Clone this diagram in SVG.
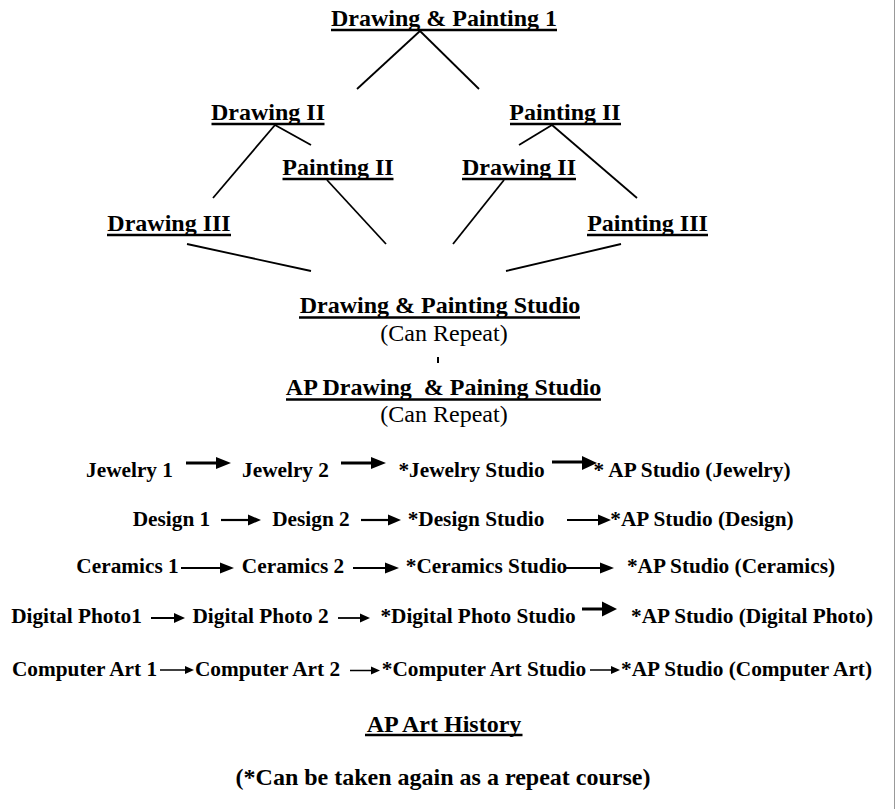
<svg xmlns="http://www.w3.org/2000/svg" width="895" height="809" viewBox="0 0 895 809">
<style>
text{font-family:"Liberation Serif","Times New Roman",serif;fill:#000;}
.h{font-size:24px;font-weight:bold;text-anchor:middle;}
.n{font-size:24px;text-anchor:middle;}
.r{font-size:21.3px;font-weight:bold;text-anchor:middle;}
.f{font-size:24px;font-weight:bold;text-anchor:middle;}
.u{stroke:#000;stroke-width:2.4;}
.ln{stroke:#000;stroke-width:1.8;fill:none;}
.a{stroke:#000;fill:none;}
.hd{fill:#000;stroke:none;}
</style>
<rect width="895" height="809" fill="#fff"/>
<line x1="894.5" y1="0" x2="894.5" y2="809" stroke="#999" stroke-width="1"/>

<g id="connectors">
<line class="ln" x1="420" y1="31" x2="357" y2="89"/>
<line class="ln" x1="420" y1="31" x2="479" y2="89"/>
<line class="ln" x1="275" y1="125" x2="213" y2="198"/>
<line class="ln" x1="275" y1="125" x2="311" y2="145"/>
<line class="ln" x1="552" y1="125" x2="519" y2="145"/>
<line class="ln" x1="552" y1="125" x2="637" y2="198"/>
<line class="ln" x1="327" y1="180" x2="386" y2="244"/>
<line class="ln" x1="504" y1="180" x2="453" y2="244"/>
<line class="ln" x1="187" y1="244" x2="311" y2="271"/>
<line class="ln" x1="621" y1="244" x2="506" y2="271"/>
<line x1="438" y1="357" x2="438" y2="363" stroke="#000" stroke-width="2"/>
<!-- row 1 -->
<line class="a" stroke-width="3" x1="186" y1="463" x2="218" y2="463"/><polygon class="hd" points="216,457 231,463 216,469"/>
<line class="a" stroke-width="3" x1="341" y1="463" x2="373" y2="463"/><polygon class="hd" points="371,457 386,463 371,469"/>
<line class="a" stroke-width="3" x1="552" y1="462" x2="584" y2="462"/><polygon class="hd" points="582,456 597,463 582,470"/>
<!-- row 2 -->
<line class="a" stroke-width="2.2" x1="221" y1="520" x2="250" y2="520"/><polygon class="hd" points="248,514.5 261,520 248,525.5"/>
<line class="a" stroke-width="2.2" x1="361" y1="520" x2="390" y2="520"/><polygon class="hd" points="388,514.5 401,520 388,525.5"/>
<line class="a" stroke-width="2.2" x1="567" y1="520" x2="600" y2="520"/><polygon class="hd" points="598,514.5 611,520 598,525.5"/>
<!-- row 3 -->
<line class="a" stroke-width="2.2" x1="181" y1="568" x2="222" y2="568"/><polygon class="hd" points="220,562.5 234,568 220,573.5"/>
<line class="a" stroke-width="2.2" x1="353" y1="568" x2="387" y2="568"/><polygon class="hd" points="385,562.5 399,568 385,573.5"/>
<line class="a" stroke-width="2.2" x1="566" y1="568" x2="602" y2="568"/><polygon class="hd" points="600,562.5 614,568 600,573.5"/>
<!-- row 4 -->
<line class="a" stroke-width="2" x1="151" y1="618" x2="176" y2="618"/><polygon class="hd" points="174,613 185,618 174,623"/>
<line class="a" stroke-width="1.8" x1="338" y1="618" x2="362" y2="618"/><polygon class="hd" points="360,613.5 370,618 360,622.5"/>
<line class="a" stroke-width="3" x1="582" y1="609" x2="604" y2="609"/><polygon class="hd" points="602,601.5 617,609 602,616.5"/>
<!-- row 5 -->
<line class="a" stroke-width="1.5" x1="160" y1="670" x2="187" y2="670"/><polygon class="hd" points="185,666 194,670 185,674"/>
<line class="a" stroke-width="1.5" x1="350" y1="670.5" x2="373" y2="670.5"/><polygon class="hd" points="371,666.5 380,670.5 371,674.5"/>
<line class="a" stroke-width="1.5" x1="590" y1="670" x2="613" y2="670"/><polygon class="hd" points="611,666 620,670 611,674"/>
</g>

<g id="dp1"><text class="h" x="444" y="26">Drawing &amp; Painting 1</text><line class="u" x1="331" y1="30" x2="557" y2="30"/></g>
<g id="drawing2-left"><text class="h" x="268" y="120">Drawing II</text><line class="u" x1="211.5" y1="124" x2="324.5" y2="124"/></g>
<g id="painting2-right"><text class="h" x="565" y="120">Painting II</text><line class="u" x1="510" y1="124" x2="621" y2="124"/></g>
<g id="painting2-mid"><text class="h" x="338" y="175">Painting II</text><line class="u" x1="282.5" y1="179" x2="393.5" y2="179"/></g>
<g id="drawing2-mid"><text class="h" x="519" y="175">Drawing II</text><line class="u" x1="462" y1="179" x2="576" y2="179"/></g>
<g id="drawing3"><text class="h" x="169" y="230.5">Drawing III</text><line class="u" x1="107" y1="235" x2="231" y2="235"/></g>
<g id="painting3"><text class="h" x="647.5" y="230.5">Painting III</text><line class="u" x1="587" y1="235" x2="708" y2="235"/></g>
<g id="dp-studio">
<text class="h" x="440" y="313">Drawing &amp; Painting Studio</text><line class="u" x1="299" y1="317.5" x2="580" y2="317.5"/>
<text class="n" x="444" y="340.5">(Can Repeat)</text>
</g>
<g id="ap-dp-studio">
<text class="h" x="443.5" y="395" xml:space="preserve">AP Drawing  &amp; Paining Studio</text><line class="u" x1="286" y1="399.5" x2="601" y2="399.5"/>
<text class="n" x="444" y="422">(Can Repeat)</text>
</g>

<g id="row-jewelry">
<text class="r" x="129.5" y="477">Jewelry 1</text>
<text class="r" x="285.5" y="477">Jewelry 2</text>
<text class="r" x="471.5" y="477">*Jewelry Studio</text>
<text class="r" x="692" y="477">* AP Studio (Jewelry)</text>
</g>
<g id="row-design">
<text class="r" x="171.5" y="526">Design 1</text>
<text class="r" x="311" y="526">Design 2</text>
<text class="r" x="476" y="526">*Design Studio</text>
<text class="r" x="702" y="526">*AP Studio (Design)</text>
</g>
<g id="row-ceramics">
<text class="r" x="127.5" y="573">Ceramics 1</text>
<text class="r" x="293" y="573">Ceramics 2</text>
<text class="r" x="486.5" y="573">*Ceramics Studio</text>
<text class="r" x="731" y="573">*AP Studio (Ceramics)</text>
</g>
<g id="row-photo">
<text class="r" x="76.5" y="623">Digital Photo1</text>
<text class="r" x="260.5" y="623">Digital Photo 2</text>
<text class="r" x="478" y="623">*Digital Photo Studio</text>
<text class="r" x="752" y="623">*AP Studio (Digital Photo)</text>
</g>
<g id="row-computer">
<text class="r" x="84.5" y="676">Computer Art 1</text>
<text class="r" x="267.5" y="676">Computer Art 2</text>
<text class="r" x="484" y="676">*Computer Art Studio</text>
<text class="r" x="746.5" y="676">*AP Studio (Computer Art)</text>
</g>
<g id="ap-art-history"><text class="h" x="444" y="731.5">AP Art History</text><line class="u" x1="365" y1="735" x2="522.5" y2="735"/></g>
<g id="footnote"><text class="f" x="443" y="785">(*Can be taken again as a repeat course)</text></g>
</svg>
